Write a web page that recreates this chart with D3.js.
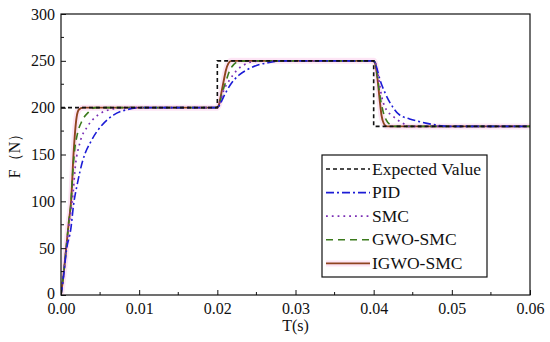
<!DOCTYPE html>
<html><head><meta charset="utf-8">
<script src="https://cdn.jsdelivr.net/npm/d3@7"></script>
<style>body{margin:0;background:#fff}svg{display:block}text{font-family:"Liberation Serif","DejaVu Serif",serif;fill:#111}</style>
</head><body><svg id="c" width="550" height="342"></svg>
<script>
const xTicks = [0, 0.01, 0.02, 0.03, 0.04, 0.05, 0.06];
const xTickLabels = ["0.00","0.01","0.02","0.03","0.04","0.05","0.06"];
const yTicks = [0, 50, 100, 150, 200, 250, 300];
const seriesNames = ["Expected Value","PID","SMC","GWO-SMC","IGWO-SMC"];
const expected = [[0,200],[0.02,200],[0.02,250],[0.04,250],[0.04,180],[0.06,180]];
const pid = [[0,0],[0.0003,18],[0.0007,48],[0.00128,72],[0.0016,96],[0.00205,117],[0.0028,144],[0.0039,165],[0.0052,181],[0.0067,192],[0.0085,198],[0.0105,200],
  [0.02,200],[0.0203,203],[0.0206,208],[0.0212,218],[0.0218,226],[0.0228,235],[0.0237,240],[0.025,245],[0.0265,248],[0.0285,250],
  [0.04,250],[0.0403,245],[0.0408,230],[0.0415,215],[0.0425,200],[0.0432,193],[0.0446,188],[0.0459,185],[0.0476,182],[0.0495,180],[0.06,180]];
const smc = [[0,0],[0.0003,20],[0.0007,52],[0.0011,80],[0.00154,109],[0.00183,137],[0.0024,162],[0.0034,180],[0.0047,192],[0.0063,198],[0.008,200],
  [0.02,200],[0.0203,205],[0.0208,218],[0.0216,230],[0.0225,240],[0.0235,246],[0.0248,249.5],[0.027,250],
  [0.04,250],[0.0403,246],[0.0407,228],[0.041,213],[0.0416,198],[0.0423,192],[0.0438,183],[0.0446,180],[0.06,180]];
const gwo = [[0,0],[0.0003,20],[0.0007,53],[0.001,78],[0.0013,101],[0.0015,130],[0.00175,155],[0.0021,172],[0.0027,186],[0.0035,195],[0.0044,200],
  [0.02,200],[0.0202,202],[0.0206,215],[0.0211,228],[0.0216,240],[0.0221,246],[0.0228,249.5],[0.024,250],
  [0.04,250],[0.0402,248],[0.0405,232],[0.0408,213],[0.0412,196],[0.0416,187],[0.0421,182],[0.0428,180],[0.06,180]];
const igwo = [[0,0],[0.0003,20],[0.0007,53],[0.001,78],[0.0013,101],[0.0016,150],[0.002,190],[0.0023,198],[0.0028,200],
  [0.02,200],[0.0202,203],[0.0205,215],[0.0208,228],[0.0211,240],[0.0214,247],[0.0218,250],
  [0.04,250],[0.0402,247],[0.0405,230],[0.0408,206],[0.041,192],[0.0413,183],[0.0417,180],[0.06,180]];

const svg = d3.select("#c");
const L = 61, R = 530, T = 14, B = 295;
const x = d3.scaleLinear().domain([0, 0.06]).range([L, R]);
const y = d3.scaleLinear().domain([0, 300]).range([B, T]);

const styles = [
  {data: expected, color: "#111", width: 1.6, dash: "4,3", curve: d3.curveLinear},
  {data: pid, color: "#1c1cd6", width: 1.6, dash: "8,3,2,3", curve: d3.curveMonotoneX},
  {data: smc, color: "#7b2fb5", width: 1.7, dash: "1.8,4", curve: d3.curveMonotoneX},
  {data: gwo, color: "#3b7a1c", width: 1.6, dash: "7,5", curve: d3.curveMonotoneX},
  {data: igwo, color: "#8f4420", width: 1.9, dash: null, curve: d3.curveMonotoneX}
];
const halo = "#fde5f5";

svg.append("clipPath").attr("id","pc").append("rect").attr("x",L).attr("y",T).attr("width",R-L).attr("height",B-T);
const g = svg.append("g").attr("clip-path","url(#pc)");
g.append("path").attr("d", d3.line().x(d=>x(d[0])).y(d=>y(d[1])).curve(d3.curveMonotoneX)(igwo))
  .attr("fill","none").attr("stroke",halo).attr("stroke-width",6);

const order = [4,3,2,1,0];
order.forEach(i => {
  const s = styles[i];
  g.append("path").attr("d", d3.line().x(d=>x(d[0])).y(d=>y(d[1])).curve(s.curve)(s.data))
    .attr("fill","none").attr("stroke",s.color).attr("stroke-width",s.width)
    .attr("stroke-dasharray", s.dash);
});

svg.append("rect").attr("x",L).attr("y",T).attr("width",R-L).attr("height",B-T)
  .attr("fill","none").attr("stroke","#111").attr("stroke-width",1.2);

const xAxis = d3.axisBottom(x).tickValues(xTicks).tickFormat((d,i)=>xTickLabels[i]).tickSizeInner(-5).tickSizeOuter(0).tickPadding(8);
const gx = svg.append("g").attr("transform",`translate(0,${B})`).call(xAxis);
gx.select(".domain").remove();
gx.selectAll("text").attr("font-size",16).attr("fill","#111");
gx.selectAll("line").attr("stroke","#111");
const xMinor = d3.range(0.005, 0.06, 0.01);
svg.append("g").selectAll("line").data(xMinor).join("line")
  .attr("x1",d=>x(d)).attr("x2",d=>x(d)).attr("y1",B).attr("y2",B-3).attr("stroke","#111");

const yAxis = d3.axisLeft(y).tickValues(yTicks).tickSizeInner(-5).tickSizeOuter(0).tickPadding(6);
const gy = svg.append("g").attr("transform",`translate(${L},0)`).call(yAxis);
gy.select(".domain").remove();
gy.selectAll("text").attr("font-size",16).attr("fill","#111");
gy.selectAll("text").filter(d => d === 0).attr("dy","0.2em");
gy.selectAll("line").attr("stroke","#111");
const yMinor = d3.range(25, 300, 50);
svg.append("g").selectAll("line").data(yMinor).join("line")
  .attr("x1",L).attr("x2",L+3).attr("y1",d=>y(d)).attr("y2",d=>y(d)).attr("stroke","#111");

svg.append("text").attr("x",(L+R)/2).attr("y",331).attr("text-anchor","middle").attr("font-size",16).text("T(s)");
svg.append("text").attr("transform","translate(20,152) rotate(-90)").attr("text-anchor","middle").attr("font-size",16).text("F（N）");

const lx = 322, ly = 155, lw = 165, lh = 122;
svg.append("rect").attr("x",lx).attr("y",ly).attr("width",lw).attr("height",lh).attr("fill","#fff").attr("stroke","#111").attr("stroke-width",1.2);
seriesNames.forEach((name,i) => {
  const s = styles[i];
  const yy = ly + 14 + i*23.6;
  if (i === 4) svg.append("line").attr("x1",lx+4).attr("x2",lx+48).attr("y1",yy).attr("y2",yy).attr("stroke",halo).attr("stroke-width",6);
  svg.append("line").attr("x1",lx+4).attr("x2",lx+48).attr("y1",yy).attr("y2",yy)
    .attr("stroke",s.color).attr("stroke-width",s.width).attr("stroke-dasharray",s.dash);
  svg.append("text").attr("x",lx+50).attr("y",yy+5.5).attr("font-size",17.5).text(name);
});
</script></body></html>
